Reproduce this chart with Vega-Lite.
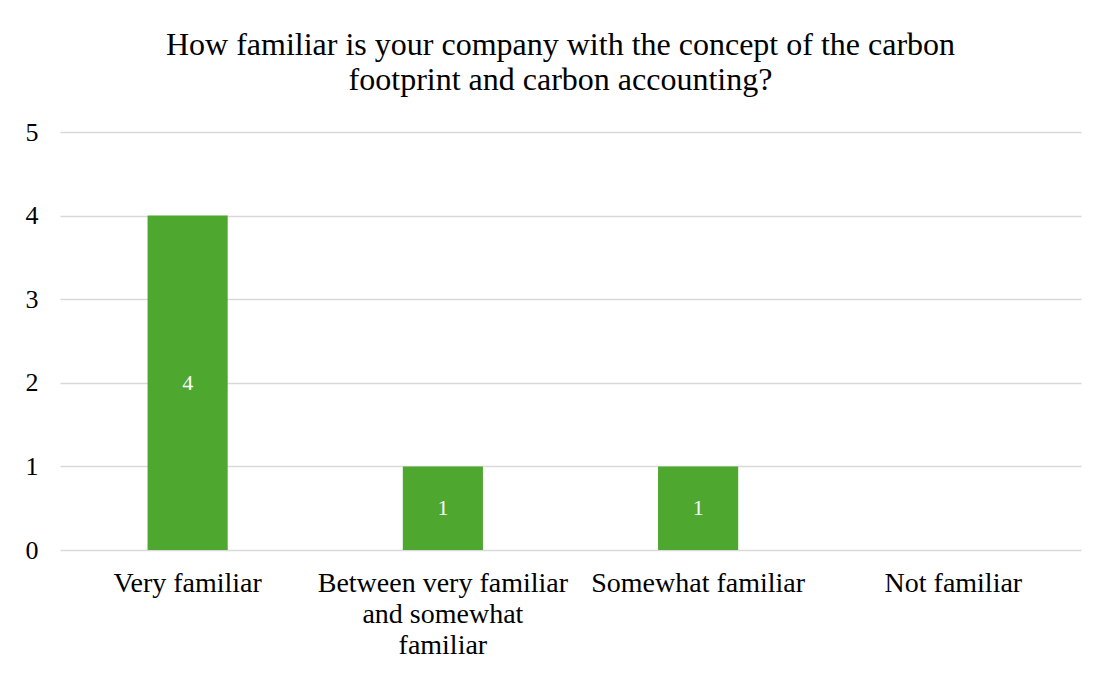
{
  "$schema": "https://vega.github.io/schema/vega-lite/v6.json",
  "autosize": {"type": "none"},
  "width": 1021,
  "height": 418,
  "padding": {"left": 60, "top": 132, "right": 21, "bottom": 123},
  "background": "white",
  "title": {
    "text": ["How familiar is your company with the concept of the carbon", "footprint and carbon accounting?"],
    "font": "Liberation Serif",
    "fontSize": 32,
    "fontWeight": "normal",
    "color": "#000000",
    "lineHeight": 35,
    "anchor": "middle",
    "dx": -10,
    "offset": 22
  },
  "data": {
    "values": [
      {"category": "Very familiar", "count": 4},
      {"category": "Between very familiar and somewhat familiar", "count": 1},
      {"category": "Somewhat familiar", "count": 1},
      {"category": "Not familiar", "count": 0}
    ]
  },
  "config": {
    "view": {"stroke": null},
    "font": "Liberation Serif",
    "axisY": {
      "title": null,
      "values": [0, 1, 2, 3, 4, 5],
      "labelFont": "Liberation Serif",
      "labelFontSize": 26,
      "labelColor": "#000000",
      "labelPadding": 22,
      "ticks": false,
      "domain": false,
      "gridColor": "#D9D9D9",
      "gridWidth": 1.5
    }
  },
  "encoding": {
    "x": {
      "field": "category",
      "type": "nominal",
      "sort": null,
      "scale": {"paddingInner": 0.686, "paddingOuter": 0.343},
      "axis": {
        "title": null,
        "labelAngle": 0,
        "labelFont": "Liberation Serif",
        "labelFontSize": 28,
        "labelColor": "#000000",
        "labelPadding": 19,
        "labelLineHeight": 31,
        "labelBaseline": "top",
        "ticks": false,
        "domain": false,
        "labelLimit": 400,
        "labelExpr": "datum.value == 'Between very familiar and somewhat familiar' ? ['Between very familiar', 'and somewhat', 'familiar'] : datum.value"
      }
    }
  },
  "layer": [
    {
      "mark": {"type": "bar", "color": "#4EA72E"},
      "encoding": {
        "y": {
          "field": "count",
          "type": "quantitative",
          "scale": {"domain": [0, 5]},
          "axis": {"title": null, "values": [0, 1, 2, 3, 4, 5]}
        }
      }
    },
    {
      "transform": [
        {"filter": "datum.count > 0"},
        {"calculate": "datum.count / 2", "as": "mid"}
      ],
      "mark": {"type": "text", "color": "white", "font": "Liberation Serif", "fontSize": 22, "baseline": "middle"},
      "encoding": {
        "y": {"field": "mid", "type": "quantitative", "scale": {"domain": [0, 5]}, "axis": {"title": null, "values": [0, 1, 2, 3, 4, 5]}},
        "text": {"field": "count", "type": "quantitative"}
      }
    }
  ]
}
